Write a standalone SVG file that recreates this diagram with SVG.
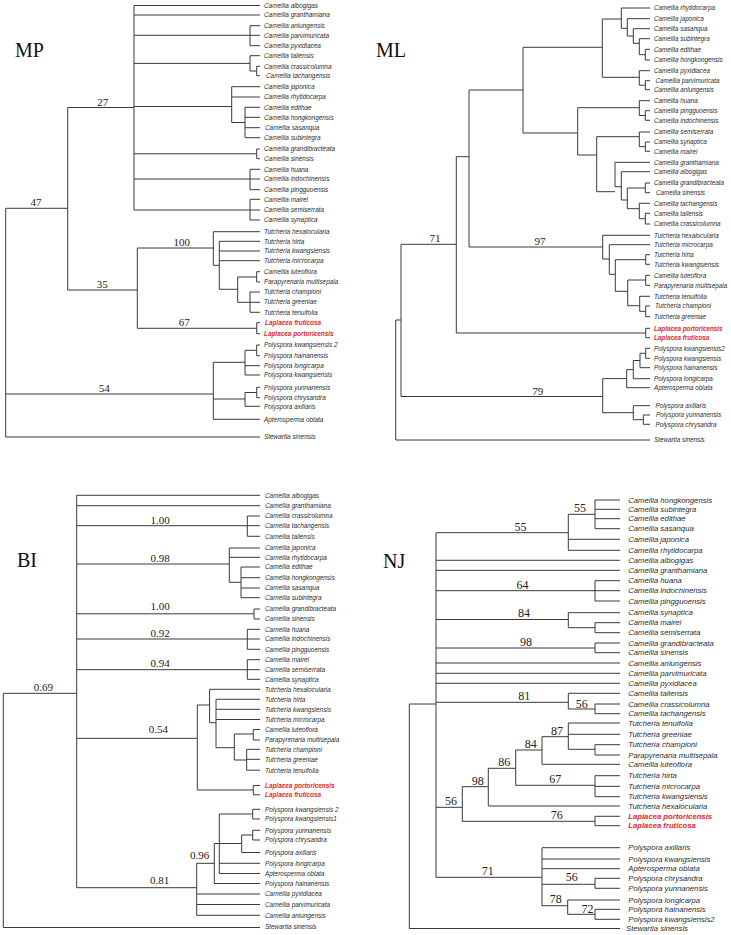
<svg xmlns="http://www.w3.org/2000/svg" width="731" height="935" viewBox="0 0 731 935">
<style>
.b{stroke:#3a3a3a;stroke-width:1;fill:none}
.t{font-family:"Liberation Sans",Arial,sans-serif;font-style:italic;font-size:6.4px;fill:#2b2b2b}
.ml .t{font-size:6.3px}
.nj .t{font-size:7.7px}
.t.lp{fill:#e3262b;font-weight:bold}
.s{font-family:"Liberation Serif","Times New Roman",serif;font-size:11px;fill:#222;text-anchor:middle}
.nj .s{font-size:12px}
.h{font-family:"Liberation Serif","Times New Roman",serif;font-size:20px;fill:#111}
</style>
<rect width="731" height="935" fill="#fff"/>

<!-- MP tree -->
<g id="tree-mp" class="mp">
<text id="mp-title" class="h" x="15" y="56.5">MP</text>
<g id="mp-connectors">
<path class="b" d="M5.7 208.3V437 M5.7 208.3H67.7 M5.7 394H213.3 M5.7 437H260
M67.7 107.5V290 M67.7 107.5H134 M67.7 290H137.3
M134 5.5V210 M134 5.5H260 M134 15H260
M134 35.3H250 M250 25.7V45.7 M250 25.7H260 M250 35.3H260 M250 45.7H260
M134 63.4H250 M250 55.7V71 M250 55.7H260 M250 71H256.7 M256.7 66.3V75.7 M256.7 66.3H260 M256.7 75.7H260
M134 106.5H231.7 M231.7 86.7V122.5 M231.7 86.7H260 M231.7 97H260 M231.7 122.5H245 M245 107.3V137.7 M245 107.3H260 M245 117.3H260 M245 127.7H260 M245 137.7H260
M134 153.8H256.7 M256.7 149V158.7 M256.7 149H260 M256.7 158.7H260
M134 179H250 M250 169.3V189.7 M250 169.3H260 M250 179H260 M250 189.7H260
M134 210H250 M250 199.3V220 M250 199.3H260 M250 210H260 M250 220H260
M137.3 248V328.3 M137.3 248H213.3 M213.3 231.7V265.3 M213.3 231.7H260 M213.3 265.3H219.3 M219.3 241.3V289.3 M219.3 241.3H260 M219.3 251H260 M219.3 260.7H260 M219.3 289.3H237.7 M237.7 277V302.3 M237.7 277H256.7 M256.7 271.7V282 M256.7 271.7H260 M256.7 282H260 M237.7 302.3H250 M250 292V312.3 M250 292H260 M250 302.3H260 M250 312.3H260
M137.3 328.3H256.7 M256.7 322.7V333.7 M256.7 322.7H260 M256.7 333.7H260
M213.3 362.3V419.3 M213.3 362.3H245 M245 350.3V375 M245 350.3H256.7 M256.7 345V355.7 M256.7 345H260 M256.7 355.7H260 M245 365.7H260 M245 375H260 M213.3 399H245 M245 392.5V406.3 M245 392.5H256.7 M256.7 387.3V397.7 M256.7 387.3H260 M256.7 397.7H260 M245 406.3H260 M213.3 419.3H260"/>
</g>
<g id="mp-support">
<text class="s" x="36" y="206">47</text>
<text class="s" x="102.7" y="105.5">27</text>
<text class="s" x="181.7" y="245.5">100</text>
<text class="s" x="102.3" y="288">35</text>
<text class="s" x="184.3" y="326.3">67</text>
<text class="s" x="104.3" y="392">54</text>
</g>
<g id="mp-taxa" xml:space="preserve">
<text class="t" x="264" y="7.8">Camellia albogigas</text>
<text class="t" x="264" y="17.3">Camellia granthamiana</text>
<text class="t" x="264" y="28">Camellia anlungensis</text>
<text class="t" x="264" y="37.6">Camellia parvimuricata</text>
<text class="t" x="264" y="48">Camellia pyxidiacea</text>
<text class="t" x="264" y="58">Camellia taliensis</text>
<text class="t" x="264" y="68.6">Camellia crassicolumna</text>
<text class="t" x="266" y="78">Camellia tachangensis</text>
<text class="t" x="264" y="89">Camellia japonica</text>
<text class="t" x="264" y="99.3">Camellia rhytidocarpa</text>
<text class="t" x="264" y="109.6">Camellia edithae</text>
<text class="t" x="264" y="119.6">Camellia  hongkongensis</text>
<text class="t" x="265" y="130">Camellia sasanqua</text>
<text class="t" x="264" y="140">Camellia  subintegra</text>
<text class="t" x="264" y="151.3">Camellia grandibracteata</text>
<text class="t" x="264" y="161">Camellia sinensis</text>
<text class="t" x="264" y="171.6">Camellia huana</text>
<text class="t" x="264" y="181.3">Camellia indochinensis</text>
<text class="t" x="264" y="192">Camellia pingguoensis</text>
<text class="t" x="264" y="201.6">Camellia mairei</text>
<text class="t" x="264" y="212.3">Camellia semiserrata</text>
<text class="t" x="264" y="222.3">Camellia synaptica</text>
<text class="t" x="264" y="234">Tutcheria hexalocularia</text>
<text class="t" x="264" y="243.6">Tutcheria hirta</text>
<text class="t" x="264" y="253.3">Tutcheria kwangsiensis</text>
<text class="t" x="264" y="263">Tutcheria microcarpa</text>
<text class="t" x="264" y="274">Camellia luteoflora</text>
<text class="t" x="264" y="284.3">Parapyrenaria multisepala</text>
<text class="t" x="264" y="294.3">Tutcheria championi</text>
<text class="t" x="264" y="304.3">Tutcheria greeniae</text>
<text class="t" x="264" y="314.6">Tutcheria tenuifolia</text>
<text class="t lp" x="265" y="325">Laplacea fruticosa</text>
<text class="t lp" x="264" y="336">Laplacea portoricensis</text>
<text class="t" x="264" y="347.3">Polyspora kwangsiensis 2</text>
<text class="t" x="264" y="358">Polyspora hainanensis</text>
<text class="t" x="264" y="368">Polyspora longicarpa</text>
<text class="t" x="264" y="377.3">Polyspora kwangsiensis</text>
<text class="t" x="264" y="389.6">Polyspora yunnanensis</text>
<text class="t" x="264" y="400">Polyspora chrysandra</text>
<text class="t" x="264" y="408.6">Polyspora axillaris</text>
<text class="t" x="264" y="421.6">Apterosperma oblata</text>
<text class="t" x="264" y="439">Stewartia sinensis</text>
</g>
</g>

<!-- ML tree -->
<g id="tree-ml" class="ml">
<text id="ml-title" class="h" x="376" y="56.5">ML</text>
<g id="ml-connectors">
<path class="b" d="M395.7 320V440 M395.7 320H401 M395.7 440H650
M401 244.3V396.5 M401 244.3H456.3 M401 396.5H602.7
M456.3 156.7V333 M456.3 156.7H469 M456.3 333H645.7 M645.7 328.3V337.7 M645.7 328.3H650 M645.7 337.7H650
M469 90V247 M469 90H523 M469 247H602.7
M523 47.3V133 M523 47.3H602.3 M523 133H577.7
M602.3 19V77.3 M602.3 19H621.3 M621.3 8V28.3 M621.3 8H650 M621.3 28.3H627.3 M627.3 18.7V36 M627.3 18.7H650 M627.3 36H633.3 M633.3 28.7V43.3 M633.3 28.7H650 M633.3 43.3H639.3 M639.3 38.7V54.7 M639.3 38.7H650 M639.3 54.7H645.3 M645.3 49.3V60 M645.3 49.3H650 M645.3 60H650
M602.3 77.3H639.3 M639.3 70.7V85.2 M639.3 70.7H650 M639.3 85.2H645.3 M645.3 80.7V89.7 M645.3 80.7H650 M645.3 89.7H650
M577.7 107.7V155 M577.7 107.7H639.3 M639.3 100.7V115.5 M639.3 100.7H650 M639.3 115.5H645.3 M645.3 110.7V120.3 M645.3 110.7H650 M645.3 120.3H650
M577.7 155H596.7 M596.7 136.7V191.7 M596.7 136.7H639.3 M639.3 132V146.7 M639.3 132H650 M639.3 146.7H645.3 M645.3 142V151.3 M645.3 142H650 M645.3 151.3H650
M596.7 191.7H615 M615 162.3V186.7 M615 162.3H650 M615 186.7H621.3 M621.3 171.7V200 M621.3 171.7H650 M621.3 200H627.3 M627.3 188V208.7 M627.3 188H645.3 M645.3 183V192.7 M645.3 183H650 M645.3 192.7H650 M627.3 208.7H639.3 M639.3 203.3V218.7 M639.3 203.3H650 M639.3 218.7H645.3 M645.3 213.3V224 M645.3 213.3H650 M645.3 224H650
M602.7 235.3V259 M602.7 235.3H650 M602.7 259H609.3 M609.3 244.7V274.3 M609.3 244.7H650 M609.3 274.3H615.3 M615.3 259.7V291.3 M615.3 259.7H645.7 M645.7 254.7V264.3 M645.7 254.7H650 M645.7 264.3H650 M615.3 291.3H627.7 M627.7 280V305.7 M627.7 280H645.7 M645.7 275.3V285.3 M645.7 275.3H650 M645.7 285.3H650 M627.7 305.7H639.7 M639.7 296.3V311.3 M639.7 296.3H650 M639.7 311.3H645.7 M645.7 306V316.7 M645.7 306H650 M645.7 316.7H650
M602.7 378.6V412.7 M602.7 378.6H626.7 M626.7 369.6V387.7 M626.7 387.7H650 M626.7 369.6H633.3 M633.3 360.5V378.7 M633.3 378.7H650 M633.3 360.5H640 M640 353.3V367.7 M640 367.7H650 M640 353.3H645.7 M645.7 348.3V358.3 M645.7 348.3H650 M645.7 358.3H650
M602.7 412.7H633.3 M633.3 405.7V419.7 M633.3 405.7H650 M633.3 419.7H643.3 M643.3 415V424.3 M643.3 415H650 M643.3 424.3H650"/>
</g>
<g id="ml-support">
<text class="s" x="435" y="242.3">71</text>
<text class="s" x="540" y="245">97</text>
<text class="s" x="537.7" y="394.5">79</text>
</g>
<g id="ml-taxa" xml:space="preserve">
<text class="t" x="654" y="10.2">Camellia rhytidocarpa</text>
<text class="t" x="654" y="20.9">Camellia japonica</text>
<text class="t" x="654" y="30.9">Camellia sasanqua</text>
<text class="t" x="654" y="40.9">Camellia  subintegra</text>
<text class="t" x="654" y="51.5">Camellia edithae</text>
<text class="t" x="654" y="62.2">Camellia  hongkongensis</text>
<text class="t" x="654" y="72.9">Camellia pyxidiacea</text>
<text class="t" x="655.5" y="82.9">Camellia parvimuricata</text>
<text class="t" x="654" y="91.9">Camellia anlungensis</text>
<text class="t" x="654" y="102.9">Camellia huana</text>
<text class="t" x="654" y="112.9">Camellia pingguoensis</text>
<text class="t" x="654" y="122.5">Camellia indochinensis</text>
<text class="t" x="654" y="134.2">Camellia semiserrata</text>
<text class="t" x="654" y="144.2">Camellia synaptica</text>
<text class="t" x="654" y="153.5">Camellia mairei</text>
<text class="t" x="654" y="164.5">Camellia granthamiana</text>
<text class="t" x="654" y="173.9">Camellia albogigas</text>
<text class="t" x="654" y="185.2">Camellia grandibracteata</text>
<text class="t" x="656" y="194.9">Camellia sinensis</text>
<text class="t" x="654" y="205.5">Camellia tachangensis</text>
<text class="t" x="654" y="215.5">Camellia taliensis</text>
<text class="t" x="654" y="226.2">Camellia crassicolumna</text>
<text class="t" x="654" y="237.5">Tutcheria hexalocularia</text>
<text class="t" x="654" y="246.9">Tutcheria microcarpa</text>
<text class="t" x="654" y="256.9">Tutcheria hirta</text>
<text class="t" x="654" y="266.5">Tutcheria kwangsiensis</text>
<text class="t" x="654" y="277.5">Camellia luteoflora</text>
<text class="t" x="654" y="287.5">Parapyrenaria multisepala</text>
<text class="t" x="654" y="298.5">Tutcheria tenuifolia</text>
<text class="t" x="655" y="308.2">Tutcheria championi</text>
<text class="t" x="654" y="318.9">Tutcheria greeniae</text>
<text class="t lp" x="654" y="330.5">Laplacea portoricensis</text>
<text class="t lp" x="654" y="339.9">Laplacea fruticosa</text>
<text class="t" x="654" y="350.5">Polyspora kwangsiensis2</text>
<text class="t" x="654" y="360.5">Polyspora kwangsiensis</text>
<text class="t" x="654" y="369.9">Polyspora hainanensis</text>
<text class="t" x="654" y="380.9">Polyspora longicarpa</text>
<text class="t" x="654" y="389.9">Apterosperma oblata</text>
<text class="t" x="655.5" y="407.9">Polyspora axillaris</text>
<text class="t" x="656" y="417.2">Polyspora yunnanensis</text>
<text class="t" x="655.5" y="426.5">Polyspora chrysandra</text>
<text class="t" x="654" y="442.2">Stewartia sinensis</text>
</g>
</g>

<!-- BI tree -->
<g id="tree-bi" class="bi">
<text id="bi-title" class="h" x="17" y="567">BI</text>
<g id="bi-connectors">
<path class="b" d="M3.3 693.3V927.5 M3.3 693.3H76.7 M3.3 927.5H260
M76.7 495.3V887.7 M76.7 495.3H260 M76.7 505.7H260
M76.7 525.7H247.3 M247.3 516V536.3 M247.3 516H260 M247.3 525.7H260 M247.3 536.3H260
M76.7 564H229.3 M229.3 548V582.3 M229.3 548H260 M229.3 557.3H260 M229.3 582.3H241 M241 567V597.7 M241 567H260 M241 577.7H260 M241 588H260 M241 597.7H260
M76.7 613.8H254 M254 609V619 M254 609H260 M254 619H260
M76.7 639H247.3 M247.3 629.3V649.3 M247.3 629.3H260 M247.3 639H260 M247.3 649.3H260
M76.7 669.7H247.3 M247.3 659.7V679.3 M247.3 659.7H260 M247.3 669.7H260 M247.3 679.3H260
M76.7 738.3H197.3 M197.3 705V790 M197.3 705H209.6 M209.6 689.3V722.7 M209.6 689.3H260 M209.6 722.7H216 M216 699.3V747.7 M216 699.3H260 M216 709.3H260 M216 719.5H260 M216 747.7H234.3 M234.3 734V760 M234.3 734H253.3 M253.3 729.5V740 M253.3 729.5H260 M253.3 740H260 M234.3 760H246.7 M246.7 749.3V770.2 M246.7 749.3H260 M246.7 759.3H260 M246.7 770.2H260 M197.3 790H253.3 M253.3 785.5V794.8 M253.3 785.5H260 M253.3 794.8H260
M76.7 887.7H196.7 M196.7 863.3V915.3 M196.7 863.3H214.3 M214.3 843.5V883.5 M214.3 843.5H241.7 M219.3 814V873.5 M219.3 814H252.7 M252.7 809.3V819 M252.7 809.3H260 M252.7 819H260 M241.7 835V852.5 M241.7 835H252.7 M252.7 830.3V840 M252.7 830.3H260 M252.7 840H260 M241.7 852.5H260 M219.3 863.3H260 M219.3 873.5H260 M214.3 883.5H260 M196.7 894H260 M196.7 904.5H260 M196.7 915.3H260"/>
</g>
<g id="bi-support">
<text class="s" x="43.3" y="691.3">0.69</text>
<text class="s" x="160" y="524">1.00</text>
<text class="s" x="160" y="562.3">0.98</text>
<text class="s" x="160" y="609.5">1.00</text>
<text class="s" x="160" y="636.7">0.92</text>
<text class="s" x="160" y="667">0.94</text>
<text class="s" x="158.3" y="733.3">0.54</text>
<text class="s" x="159.7" y="884">0.81</text>
<text class="s" x="199.7" y="859">0.96</text>
</g>
<g id="bi-taxa" xml:space="preserve">
<text class="t" x="265" y="497.6">Camellia albogigas</text>
<text class="t" x="265" y="508">Camellia granthamiana</text>
<text class="t" x="265" y="518.3">Camellia crassicolumna</text>
<text class="t" x="265" y="528">Camellia tachangensis</text>
<text class="t" x="265" y="538.6">Camellia taliensis</text>
<text class="t" x="265" y="550.3">Camellia japonica</text>
<text class="t" x="265" y="559.6">Camellia rhytidocarpa</text>
<text class="t" x="265" y="569.3">Camellia edithae</text>
<text class="t" x="265" y="580">Camellia  hongkongensis</text>
<text class="t" x="265" y="590.3">Camellia sasanqua</text>
<text class="t" x="265" y="600">Camellia  subintegra</text>
<text class="t" x="265" y="611.3">Camellia grandibracteata</text>
<text class="t" x="265" y="621.3">Camellia sinensis</text>
<text class="t" x="265" y="631.6">Camellia huana</text>
<text class="t" x="265" y="641.3">Camellia indochinensis</text>
<text class="t" x="265" y="651.6">Camellia pingguoensis</text>
<text class="t" x="265" y="662">Camellia mairei</text>
<text class="t" x="265" y="672">Camellia semiserrata</text>
<text class="t" x="265" y="681.6">Camellia synaptica</text>
<text class="t" x="265" y="691.6">Tutcheria hexalocularia</text>
<text class="t" x="265" y="701.6">Tutcheria hirta</text>
<text class="t" x="265" y="711.6">Tutcheria kwangsiensis</text>
<text class="t" x="265" y="721.8">Tutcheria microcarpa</text>
<text class="t" x="265" y="731.8">Camellia luteoflora</text>
<text class="t" x="265" y="742.3">Parapyrenaria multisepala</text>
<text class="t" x="265" y="751.6">Tutcheria championi</text>
<text class="t" x="265" y="761.6">Tutcheria greeniae</text>
<text class="t" x="265" y="772.5">Tutcheria tenuifolia</text>
<text class="t lp" x="265" y="787.8">Laplacea portoricensis</text>
<text class="t lp" x="265" y="797.1">Laplacea fruticosa</text>
<text class="t" x="265" y="811.6">Polyspora kwangsiensis 2</text>
<text class="t" x="265" y="821.3">Polyspora kwangsiensis1</text>
<text class="t" x="265" y="832.6">Polyspora yunnanensis</text>
<text class="t" x="265" y="842.3">Polyspora chrysandra</text>
<text class="t" x="265" y="854.8">Polyspora axillaris</text>
<text class="t" x="265" y="865.6">Polyspora longicarpa</text>
<text class="t" x="265" y="875.8">Apterosperma oblata</text>
<text class="t" x="265" y="885.8">Polyspora hainanensis</text>
<text class="t" x="265" y="896.3">Camellia pyxidiacea</text>
<text class="t" x="265" y="906.8">Camellia parvimuricata</text>
<text class="t" x="265" y="917.6">Camellia anlungensis</text>
<text class="t" x="265" y="928.8">Stewartia sinensis</text>
</g>
</g>

<!-- NJ tree -->
<g id="tree-nj" class="nj">
<text id="nj-title" class="h" x="383" y="568">NJ</text>
<g id="nj-connectors">
<path class="b" d="M409.3 704V928.5 M409.3 704H436 M409.3 928.5H620
M436 532.7V877.3
M436 532.7H568.3 M568.3 514.3V550.3 M568.3 514.3H595 M595 500V528.7 M595 500H620 M595 509.3H620 M595 518.7H620 M595 528.7H620 M568.3 539.3H620 M568.3 550.3H620
M436 560.3H620 M436 570.3H620
M436 590.7H595 M595 580.7V601 M595 580.7H620 M595 590.7H620 M595 601H620
M436 619.5H568.3 M568.3 612.7V627.7 M568.3 612.7H620 M568.3 627.7H595 M595 622.7V632.7 M595 622.7H620 M595 632.7H620
M436 648H595 M595 643V652.7 M595 643H620 M595 652.7H620
M436 663H620 M436 673.3H620 M436 683.3H620
M436 702.3H568.3 M568.3 693.3V709 M568.3 693.3H620 M568.3 709H595 M595 704V713.7 M595 704H620 M595 713.7H620
M436 807.3H462.3 M462.3 786.7V821.3 M462.3 786.7H488.3 M488.3 768.3V806 M488.3 806H620 M488.3 768.3H515.7 M515.7 750V785.3 M515.7 750H542 M542 736.7V764.3 M542 764.3H620 M542 736.7H568.3 M568.3 723V749.3 M568.3 723H620 M568.3 734.3H620 M568.3 749.3H595 M595 744.7V755 M595 744.7H620 M595 755H620 M515.7 785.3H595 M595 775.7V796.7 M595 775.7H620 M595 786.3H620 M595 796.7H620 M462.3 821.3H595 M595 816.3V825.7 M595 816.3H620 M595 825.7H620
M436 877.3H542 M542 847.7V905.7 M542 847.7H620 M542 859H620 M542 868.7H620 M542 884.3H595 M595 878.3V888.3 M595 878.3H620 M595 888.3H620 M542 905.7H567.7 M567.7 900V914.3 M567.7 900H620 M567.7 914.3H595 M595 909.3V919.3 M595 909.3H620 M595 919.3H620"/>
</g>
<g id="nj-support">
<text class="s" x="520.5" y="530.5">55</text>
<text class="s" x="580" y="512.3">55</text>
<text class="s" x="522.5" y="588.7">64</text>
<text class="s" x="524" y="617.3">84</text>
<text class="s" x="526" y="646">98</text>
<text class="s" x="524.3" y="700.3">81</text>
<text class="s" x="581.7" y="707.5">56</text>
<text class="s" x="557" y="734.7">87</text>
<text class="s" x="530.7" y="748">84</text>
<text class="s" x="504.3" y="766.3">86</text>
<text class="s" x="477.7" y="784.7">98</text>
<text class="s" x="555.3" y="783.3">67</text>
<text class="s" x="451" y="805.3">56</text>
<text class="s" x="556.7" y="819.3">76</text>
<text class="s" x="487.7" y="875.3">71</text>
<text class="s" x="571.7" y="881">56</text>
<text class="s" x="555.8" y="903">78</text>
<text class="s" x="587.5" y="912.5">72</text>
</g>
<g id="nj-taxa" xml:space="preserve">
<text class="t" x="628.3" y="502.7">Camellia  hongkongensis</text>
<text class="t" x="628.3" y="512">Camellia  subintegra</text>
<text class="t" x="628.3" y="521.4">Camellia edithae</text>
<text class="t" x="628.3" y="531.4">Camellia sasanqua</text>
<text class="t" x="628.3" y="542">Camellia japonica</text>
<text class="t" x="628.3" y="553">Camellia rhytidocarpa</text>
<text class="t" x="628.3" y="563">Camellia albogigas</text>
<text class="t" x="628.3" y="573">Camellia granthamiana</text>
<text class="t" x="628.3" y="583.4">Camellia huana</text>
<text class="t" x="628.3" y="593.4">Camellia indochinensis</text>
<text class="t" x="628.3" y="603.7">Camellia pingguoensis</text>
<text class="t" x="628.3" y="615.4">Camellia synaptica</text>
<text class="t" x="628.3" y="625.4">Camellia mairei</text>
<text class="t" x="628.3" y="635.4">Camellia semiserrata</text>
<text class="t" x="628.3" y="645.7">Camellia grandibracteata</text>
<text class="t" x="628.3" y="655.4">Camellia sinensis</text>
<text class="t" x="628.3" y="665.7">Camellia anlungensis</text>
<text class="t" x="628.3" y="676">Camellia parvimuricata</text>
<text class="t" x="628.3" y="686">Camellia pyxidiacea</text>
<text class="t" x="628.3" y="696">Camellia taliensis</text>
<text class="t" x="628.3" y="706.7">Camellia crassicolumna</text>
<text class="t" x="628.3" y="716.4">Camellia tachangensis</text>
<text class="t" x="628.3" y="725.7">Tutcheria tenuifolia</text>
<text class="t" x="628.3" y="737">Tutcheria greeniae</text>
<text class="t" x="628.3" y="747.4">Tutcheria championi</text>
<text class="t" x="628.3" y="757.7">Parapyrenaria multisepala</text>
<text class="t" x="628.3" y="767">Camellia luteoflora</text>
<text class="t" x="628.3" y="778.4">Tutcheria hirta</text>
<text class="t" x="628.3" y="789">Tutcheria microcarpa</text>
<text class="t" x="628.3" y="799.4">Tutcheria kwangsiensis</text>
<text class="t" x="628.3" y="808.7">Tutcheria hexalocularia</text>
<text class="t lp" x="628.3" y="819">Laplacea portoricensis</text>
<text class="t lp" x="628.3" y="828.4">Laplacea fruticosa</text>
<text class="t" x="628.3" y="850.4">Polyspora axillaris</text>
<text class="t" x="628.3" y="861.7">Polyspora kwangsiensis</text>
<text class="t" x="628.3" y="871.4">Apterosperma oblata</text>
<text class="t" x="628.3" y="881">Polyspora chrysandra</text>
<text class="t" x="628.3" y="891">Polyspora yunnanensis</text>
<text class="t" x="628.3" y="902.7">Polyspora longicarpa</text>
<text class="t" x="628.3" y="912">Polyspora hainanensis</text>
<text class="t" x="628.3" y="922">Polyspora kwangsiensis2</text>
<text class="t" x="626" y="931.2">Stewartia sinensis</text>
</g>
</g>
</svg>
